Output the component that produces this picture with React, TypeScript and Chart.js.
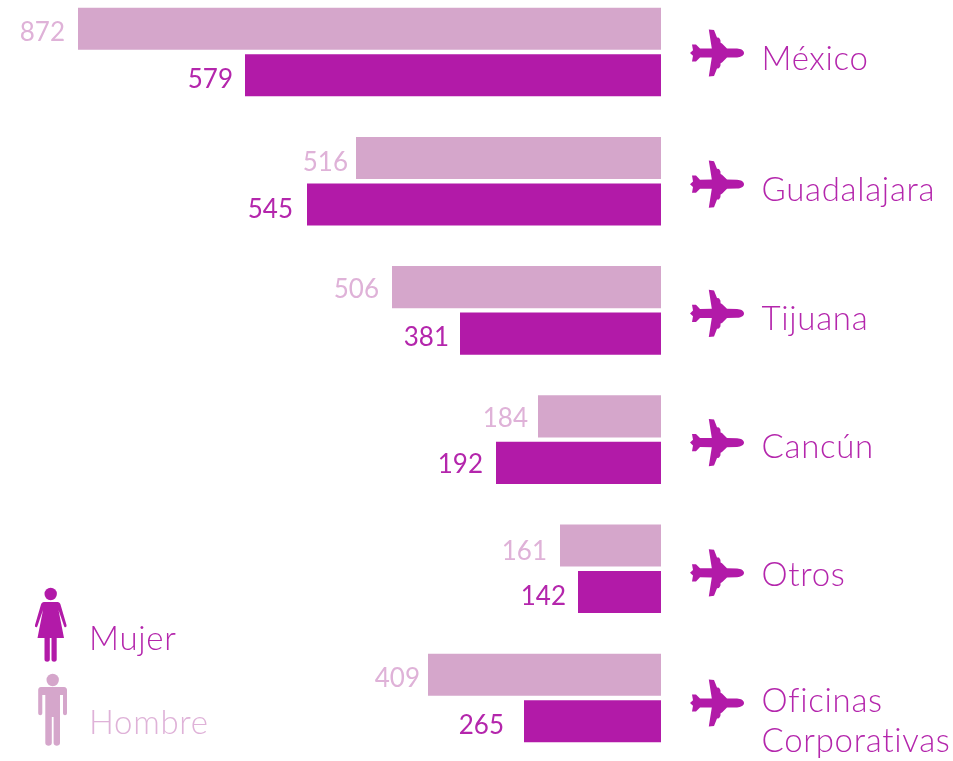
import React, { useEffect, useRef } from "react";
import { Chart, registerables } from "chart.js";

Chart.register(...registerables);

const categories = ["México", "Guadalajara", "Tijuana", "Cancún", "Otros", "Oficinas|Corporativas"];
// Printed values
const hombreLabels = [872, 516, 506, 184, 161, 409];
const mujerLabels = [579, 545, 381, 192, 142, 265];
// Bar lengths as drawn in the picture (they are not proportional to the printed values)
const hombreBars = [583, 305, 269, 123, 101, 233];
const mujerBars = [416, 354, 201, 165, 83, 137];

// Layout nudges, relative to the bars and rows from the scales
const hombreGaps = [13, 8, 13, 10, 13, 8];
const mujerGaps = [12, 14, 11, 13, 12, 20];
const hombreLift = [4, 5, 2, 2, 6, 4];
const mujerLift = [4, 5, 4, 2, 5, 4];
const planeLift = [1, 3, 3, 3, 4, 5];
const nameLift = [7, 9, 9, 8, 7, 3];

const DARK = "#B21AA8";
const LIGHT = "#D5A6CB";
const DARK_TEXT = "#B426AC";
const LIGHT_TEXT = "#DFB2D8";
const FONT = "Lato";
const SHIFT = 20; // canvas extends above the page so the first row's band can start off-page

const PLANE =
  "M27 0C27 -2.6 24 -4.2 20 -4.4L10 -4.6L5 -9.5L3.6 -10.2L3.4 -13L2 -15.2L0 -15.4L-3 -23L-8.2 -23.6L-5.2 -4.6L-17 -4.5L-21 -8.6L-25 -8.6L-24 -2.8L-27 0L-24 2.8L-25 8.6L-21 8.6L-17 4.5L-5.2 4.6L-8.2 23.6L-3 23L0 15.4L2 15.2L3.4 13L3.6 10.2L5 9.5L10 4.6L20 4.4C24 4.2 27 2.6 27 0Z";

function drawWoman(ctx: CanvasRenderingContext2D) {
  ctx.fillStyle = DARK;
  ctx.beginPath();
  ctx.arc(50.7, 594, 6.2, 0, Math.PI * 2);
  ctx.fill();
  ctx.fill(
    new Path2D(
      "M44 602L57.5 602C59 602 60 603 60.5 604.5L66.5 625C67 627.5 64.5 628 64 626L58.5 610L64 638L56.7 638L56.7 659.5C56.7 662.5 51.5 662.5 51.5 659.5L51.5 638L49.8 638L49.8 659.5C49.8 662.5 44.5 662.5 44.5 659.5L44.5 638L37.5 638L43 610L37.5 626C37 628 34.5 627.5 35 625L41 604.5C41.5 603 42.5 602 44 602Z"
    )
  );
}

function drawMan(ctx: CanvasRenderingContext2D) {
  ctx.fillStyle = LIGHT;
  ctx.beginPath();
  ctx.arc(52.7, 680, 6.2, 0, Math.PI * 2);
  ctx.fill();
  ctx.fill(
    new Path2D(
      "M41 687L64 687C66 687 67 688.5 67 690L67 713C67 716 63 716 63 713L63 695L60 695L60 743C60 746.5 53.6 746.5 53.6 743L53.6 717L51.8 717L51.8 743C51.8 746.5 45.3 746.5 45.3 743L45.3 695L42.3 695L42.3 713C42.3 716 38.2 716 38.2 713L38.2 690C38.2 688.5 39 687 41 687Z"
    )
  );
}

const decorations = {
  id: "decorations",
  afterDatasetsDraw(chart: any) {
    const { ctx, scales } = chart;
    const xs = scales.x;
    const ys = scales.y;
    const base = xs.getPixelForValue(0);
    ctx.save();
    ctx.textBaseline = "middle";

    // value labels
    ctx.font = `400 26px ${FONT}`;
    ctx.textAlign = "right";
    chart.data.datasets.forEach((ds: any, d: number) => {
      const meta = chart.getDatasetMeta(d);
      const printed = d === 0 ? hombreLabels : mujerLabels;
      const gaps = d === 0 ? hombreGaps : mujerGaps;
      const lift = d === 0 ? hombreLift : mujerLift;
      ctx.fillStyle = d === 0 ? LIGHT_TEXT : DARK_TEXT;
      meta.data.forEach((bar: any, i: number) => {
        ctx.fillText(String(printed[i]), bar.x - gaps[i], bar.y + lift[i]);
      });
    });

    // planes and categories
    const plane = new Path2D(PLANE);
    ctx.letterSpacing = "0.7px";
    ctx.font = `300 33px ${FONT}`;
    ctx.textAlign = "left";
    categories.forEach((cat, i) => {
      const y = ys.getPixelForValue(i);
      ctx.save();
      ctx.translate(base + 56, y + planeLift[i]);
      ctx.fillStyle = DARK;
      ctx.fill(plane);
      ctx.restore();
      ctx.fillStyle = DARK_TEXT;
      cat.split("|").forEach((l, k) => ctx.fillText(l, base + 100.5, y + nameLift[i] + k * 40));
    });

    // legend
    ctx.translate(0, SHIFT);
    drawWoman(ctx);
    drawMan(ctx);
    ctx.fillStyle = DARK_TEXT;
    ctx.fillText(chart.data.datasets[1].label, 89, 639);
    ctx.fillStyle = LIGHT_TEXT;
    ctx.fillText(chart.data.datasets[0].label, 89, 723);
    ctx.restore();
  },
};

export default function App() {
  const ref = useRef<HTMLCanvasElement>(null);
  useEffect(() => {
    const chart = new Chart(ref.current!, {
      type: "bar",
      data: {
        labels: categories,
        datasets: [
          { label: "Hombre", data: hombreBars, backgroundColor: LIGHT },
          { label: "Mujer", data: mujerBars, backgroundColor: DARK },
        ],
      },
      options: {
        indexAxis: "y",
        responsive: false,
        animation: false,
        categoryPercentage: 0.72,
        barPercentage: 0.905,
        layout: { padding: { left: 0, right: 292, top: 7.4, bottom: 18.4 } },
        plugins: { legend: { display: false }, tooltip: { enabled: false } },
        scales: {
          x: { display: false, reverse: true, min: 0, max: 661 },
          y: { display: false },
        },
      } as any,
      plugins: [decorations],
    });
    return () => chart.destroy();
  }, []);
  return (
    <div style={{ position: "absolute", left: 0, top: 0, width: 953, height: 761, overflow: "hidden", background: "#fff" }}>
      <canvas ref={ref} width={953} height={801} style={{ display: "block", position: "absolute", left: 0, top: -SHIFT }} />
    </div>
  );
}
